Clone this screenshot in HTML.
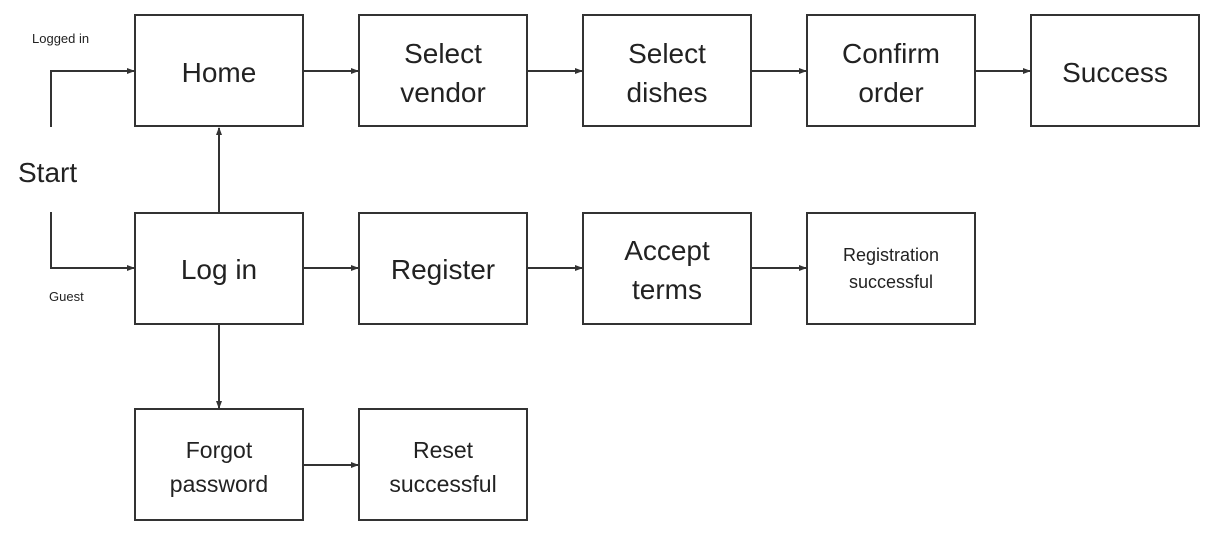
<!DOCTYPE html>
<html><head><style>
body{margin:0;width:1208px;height:532px;background:#fff;overflow:hidden}
svg text{font-family:"Liberation Sans",Arial,sans-serif;fill:#222}
</style></head><body>
<svg width="1208" height="532" viewBox="0 0 1208 532">
<defs><marker id="a" markerWidth="8" markerHeight="8" refX="7" refY="4" orient="auto" markerUnits="userSpaceOnUse"><path d="M0,1 L8,4 L0,7 Z" fill="#333"/></marker></defs>
<g fill="none" stroke="#333" stroke-width="2">
<rect x="135" y="15" width="168" height="111"/>
<rect x="359" y="15" width="168" height="111"/>
<rect x="583" y="15" width="168" height="111"/>
<rect x="807" y="15" width="168" height="111"/>
<rect x="1031" y="15" width="168" height="111"/>
<rect x="135" y="213" width="168" height="111"/>
<rect x="359" y="213" width="168" height="111"/>
<rect x="583" y="213" width="168" height="111"/>
<rect x="807" y="213" width="168" height="111"/>
<rect x="135" y="409" width="168" height="111"/>
<rect x="359" y="409" width="168" height="111"/>
</g>
<g fill="none" stroke="#333" stroke-width="2" marker-end="url(#a)">
<path d="M51,127 V71 H134"/>
<path d="M51,212 V268 H134"/>
<path d="M303,71 H358"/><path d="M527,71 H582"/><path d="M751,71 H806"/><path d="M975,71 H1030"/>
<path d="M303,268 H358"/><path d="M527,268 H582"/><path d="M751,268 H806"/>
<path d="M219,213 V128"/>
<path d="M219,324 V408"/>
<path d="M303,465 H358"/>
</g>
<g text-anchor="middle" font-size="28">
<text x="219" y="82">Home</text>
<text x="443" y="63">Select</text><text x="443" y="102">vendor</text>
<text x="667" y="63">Select</text><text x="667" y="102">dishes</text>
<text x="891" y="63">Confirm</text><text x="891" y="102">order</text>
<text x="1115" y="82">Success</text>
<text x="219" y="279">Log in</text>
<text x="443" y="279">Register</text>
<text x="667" y="260">Accept</text><text x="667" y="299">terms</text>
</g>
<g text-anchor="middle" font-size="18">
<text x="891" y="261">Registration</text><text x="891" y="288">successful</text>
</g>
<g text-anchor="middle" font-size="23">
<text x="219" y="458">Forgot</text><text x="219" y="492">password</text>
<text x="443" y="458">Reset</text><text x="443" y="492">successful</text>
</g>
<text x="18" y="182" font-size="28">Start</text>
<text x="32" y="43" font-size="13">Logged in</text>
<text x="49" y="301" font-size="13">Guest</text>
</svg>
</body></html>
